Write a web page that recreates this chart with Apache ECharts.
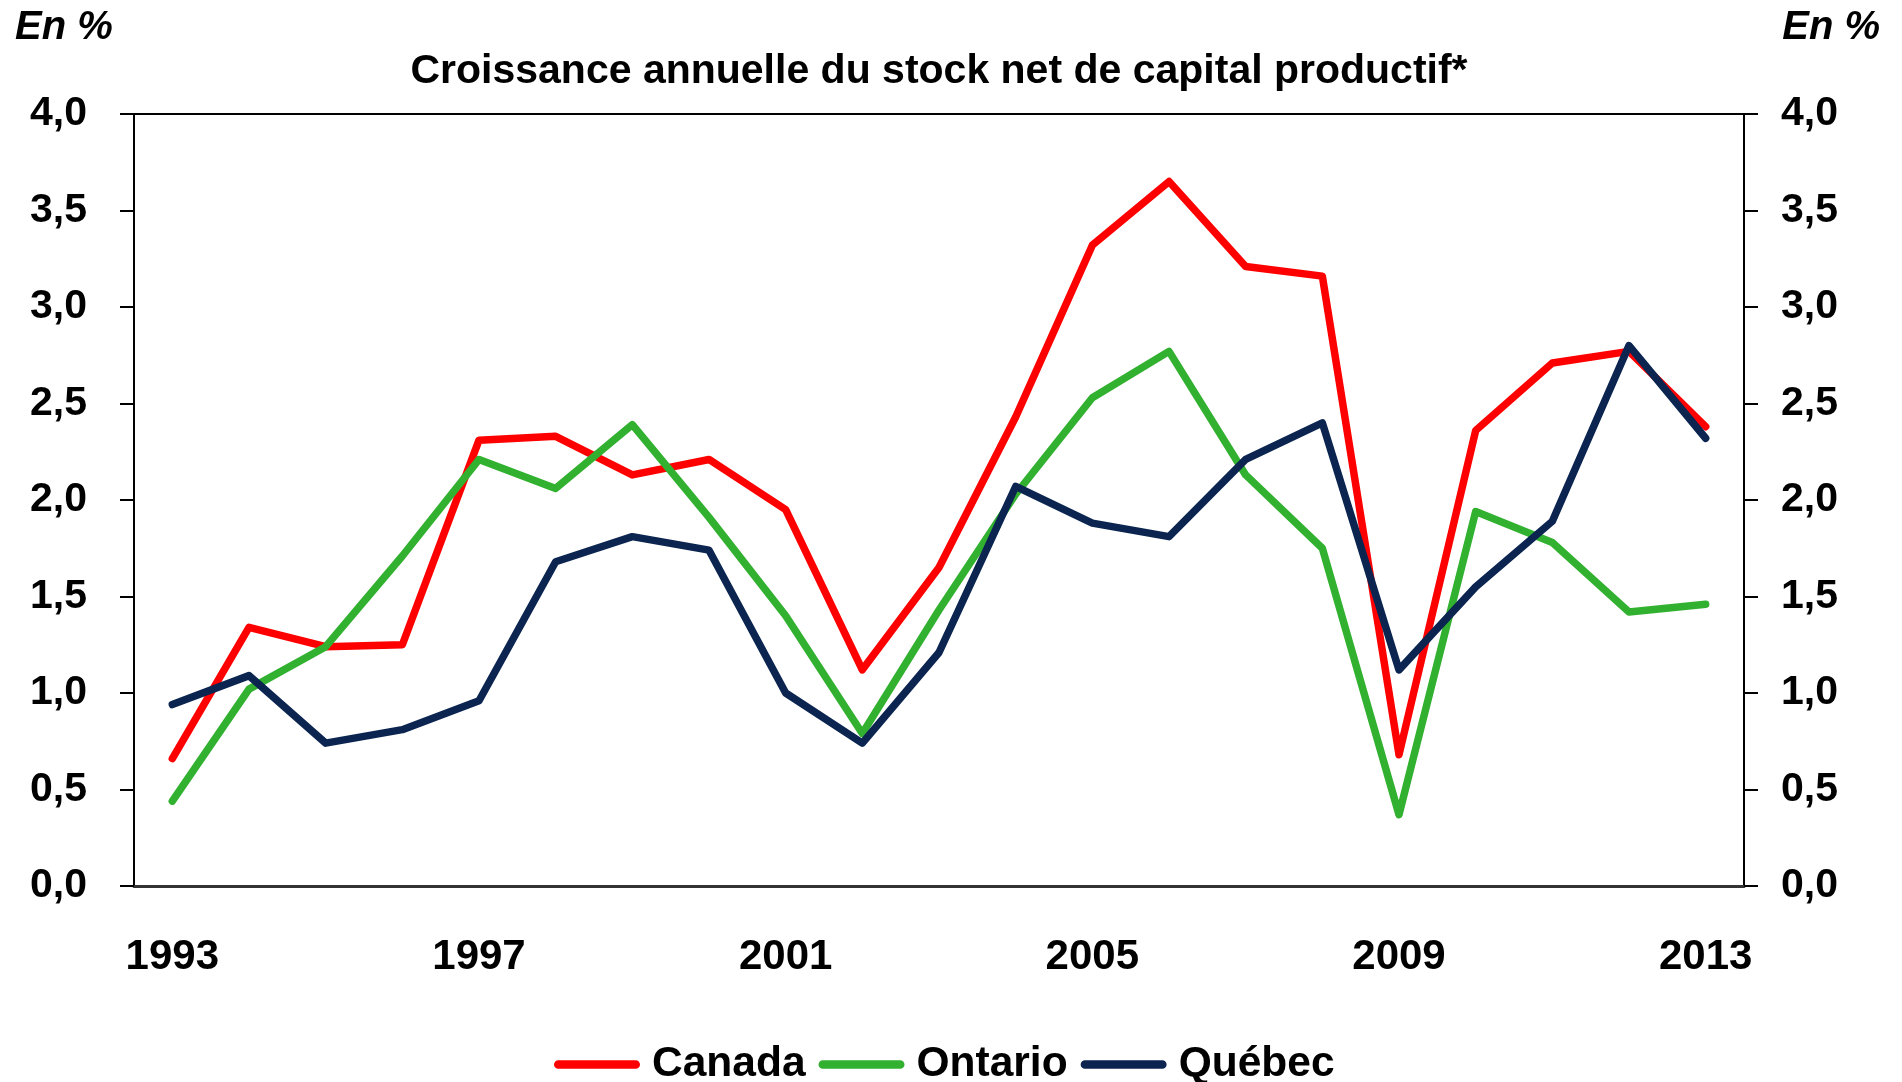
<!DOCTYPE html>
<html>
<head>
<meta charset="utf-8">
<script src="https://cdn.jsdelivr.net/npm/echarts@6/dist/echarts.min.js"></script>
<style>
html,body{margin:0;padding:0;background:#fff;}
#chart{width:1902px;height:1082px;}
</style>
</head>
<body>
<div id="chart"></div>
<script>
const years = ['1993','1994','1995','1996','1997','1998','1999','2000','2001','2002','2003','2004','2005','2006','2007','2008','2009','2010','2011','2012','2013'];
const canada  = [0.66,1.34,1.24,1.25,2.31,2.33,2.13,2.21,1.95,1.12,1.65,2.43,3.32,3.65,3.21,3.16,0.68,2.36,2.71,2.77,2.38];
const ontario = [0.44,1.02,1.24,1.71,2.21,2.06,2.39,1.91,1.40,0.79,1.43,2.03,2.53,2.77,2.13,1.75,0.37,1.94,1.78,1.42,1.46];
const quebec  = [0.94,1.09,0.74,0.81,0.96,1.68,1.81,1.74,1.00,0.74,1.21,2.07,1.88,1.81,2.21,2.40,1.12,1.55,1.89,2.80,2.32];
const seriesNames = ['Canada','Ontario','Québec'];
const colors = ['#FF0000','#31B12F','#0B2550'];
const titleText = 'Croissance annuelle du stock net de capital productif*';
const unitText = 'En %';

const FONT = '"Liberation Sans", Arial, sans-serif';
const fmt = v => v.toFixed(1).replace('.', ',');
const chart = echarts.init(document.getElementById('chart'), null, {renderer:'canvas'});

const yAxisCommon = {
  type:'value', min:0, max:4, interval:0.5,
  splitLine:{show:false},
  axisLine:{show:true, lineStyle:{color:'#000', width:2}},
  axisTick:{show:true, inside:false, length:14, lineStyle:{color:'#000', width:2}},
  axisLabel:{fontFamily:FONT, fontWeight:'bold', fontSize:41, color:'#000', formatter:fmt}
};

const stadium = 'path://M4,0 L76,0 A4,4 0 0 1 76,8 L4,8 A4,4 0 0 1 4,0 Z';

chart.setOption({
  animation:false,
  backgroundColor:'#fff',
  title:{
    text:titleText, left:934, top:46, textAlign:'center',
    textStyle:{fontFamily:FONT, fontWeight:'bold', fontSize:41, color:'#000'}
  },
  graphic:[
    {type:'text', left:15, top:8, style:{text:unitText, font:'italic bold 40px "Liberation Sans", Arial, sans-serif', fill:'#000'}},
    {type:'text', right:22, top:8, style:{text:unitText, font:'italic bold 40px "Liberation Sans", Arial, sans-serif', fill:'#000'}}
  ],
  legend:{
    data:seriesNames, left:549, bottom:-9, itemGap:13, itemWidth:86, itemHeight:9,
    icon:stadium,
    textStyle:{fontFamily:FONT, fontWeight:'bold', fontSize:42.5, color:'#000', padding:[0,0,0,7]}
  },
  grid:{left:134, right:158, top:114, bottom:196, show:true, borderColor:'#000', borderWidth:2, backgroundColor:'transparent'},
  xAxis:{
    type:'category', data:years, boundaryGap:true,
    axisLine:{show:true, lineStyle:{color:'#333', width:3}},
    axisTick:{show:false},
    axisLabel:{interval:3, margin:50, fontFamily:FONT, fontWeight:'bold', fontSize:42, color:'#000'},
    splitLine:{show:false}
  },
  yAxis:[
    Object.assign({}, yAxisCommon, {position:'left', axisLabel:Object.assign({}, yAxisCommon.axisLabel, {margin:47})}),
    Object.assign({}, yAxisCommon, {position:'right', axisLabel:Object.assign({}, yAxisCommon.axisLabel, {margin:37})})
  ],
  series:[canada, ontario, quebec].map((d,i)=>({
    name:seriesNames[i], type:'line', data:d, yAxisIndex:0,
    showSymbol:false, symbol:'none', smooth:false,
    color:colors[i],
    lineStyle:{color:colors[i], width:7.5, cap:'round', join:'round'},
    z:2+i
  }))
});
</script>
</body>
</html>
